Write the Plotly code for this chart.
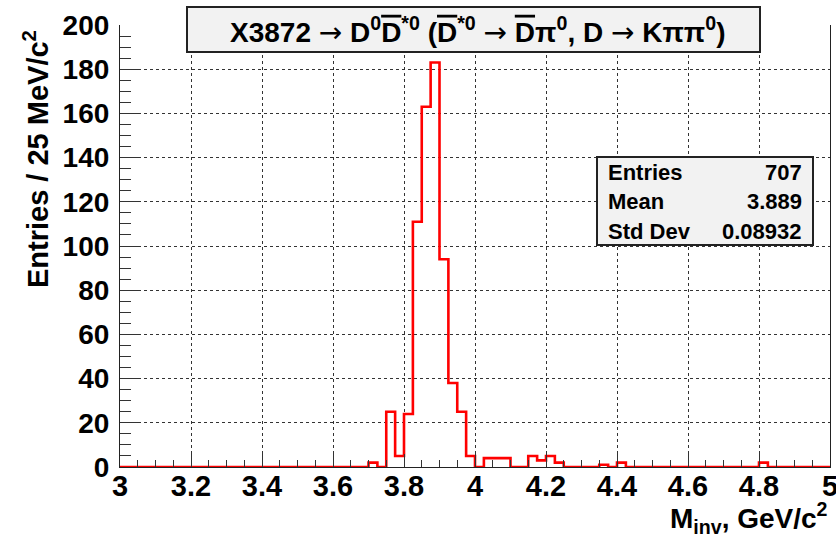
import numpy as np
import plotly.graph_objects as go

# Histogram binning in GeV/c^2
x_min, x_max, bin_width = 3.0, 5.0, 0.025

# Non-empty bins: lower bin edge and number of entries
bin_low = [3.700, 3.750, 3.775, 3.800, 3.825, 3.850, 3.875, 3.900, 3.925, 3.950, 3.975,
           4.025, 4.050, 4.075, 4.150, 4.175, 4.200, 4.225, 4.350, 4.400, 4.800]
bin_counts = [2, 25, 5, 24, 111, 163, 183, 94, 38, 25, 5,
              4, 4, 4, 5, 3, 5, 2, 1, 2, 2]

x_tick_vals = [3.0, 3.2, 3.4, 3.6, 3.8, 4.0, 4.2, 4.4, 4.6, 4.8, 5.0]
x_tick_text = ["3", "3.2", "3.4", "3.6", "3.8", "4", "4.2", "4.4", "4.6", "4.8", "5"]
y_tick_vals = [0, 20, 40, 60, 80, 100, 120, 140, 160, 180, 200]
y_tick_text = [str(v) for v in y_tick_vals]

stat_names = ["Entries", "Mean", "Std Dev"]
stat_values = ["707", "3.889", "0.08932"]

ARROW = "<span style='font-family:DejaVu Sans;font-weight:normal'>\u2192</span>"
OVER_D = "<span style='text-decoration:overline'>D</span>"
title_text = (f"X3872 {ARROW} D<sup>0</sup>{OVER_D}<sup>*0</sup> "
              f"({OVER_D}<sup>*0</sup> {ARROW} {OVER_D}\u03c0<sup>0</sup>, "
              f"D {ARROW} K\u03c0\u03c0<sup>0</sup>)")
y_title = "Entries / 25 MeV/c<sup>2</sup>"
x_title = "M<sub>inv</sub>, GeV/c<sup>2</sup>"

# Fill the full bin array and build the step outline
n_bins = int(round((x_max - x_min) / bin_width))
counts = np.zeros(n_bins)
for lo, c in zip(bin_low, bin_counts):
    counts[int(round((lo - x_min) / bin_width))] = c
edges = x_min + bin_width * np.arange(n_bins + 1)
step_y = np.append(counts, counts[-1])

# Frame geometry (pixels) and helpers to place decorations in paper coordinates
FIG_W, FIG_H = 836, 538
L, R, T, B = 120, 830, 25, 467
W, H = R - L, B - T


def px(x):
    return (x - L) / W


def py(y):
    return (B - y) / H


FONT = "Liberation Sans"
BOLD = dict(family=FONT, color="black", weight="bold")

fig = go.Figure()
fig.add_trace(go.Scatter(
    x=edges, y=step_y, mode="lines",
    line=dict(color="#ff0000", width=2.6, shape="hv"),
    cliponaxis=False, hoverinfo="skip", showlegend=False,
))

axis_common = dict(
    showline=True, linecolor="#222", linewidth=1.2,
    ticks="inside", tickcolor="#333", tickwidth=1.2,
    showgrid=True, gridcolor="#333", gridwidth=1, griddash="dot",
    zeroline=False, ticklabeloverflow="allow",
)

fig.update_xaxes(
    range=[x_min, x_max], tickmode="array", tickvals=x_tick_vals, ticktext=x_tick_text,
    ticklen=13, tickfont=dict(size=29, **BOLD), ticklabelstandoff=-7,
    minor=dict(dtick=0.05, tick0=x_min, ticks="inside", ticklen=7, tickcolor="#333",
               tickwidth=1.2, showgrid=False),
    **axis_common,
)
fig.update_yaxes(
    range=[0, 200], tickmode="array", tickvals=y_tick_vals, ticktext=y_tick_text,
    ticklen=21, tickfont=dict(size=28, **BOLD), mirror=True, ticklabelstandoff=4,
    minor=dict(dtick=5, tick0=0, ticks="inside", ticklen=11, tickcolor="#333",
               tickwidth=1.2, showgrid=False),
    **axis_common,
)

shapes = [
    # title box
    dict(type="rect", xref="paper", yref="paper", x0=px(187), x1=px(760), y0=py(52), y1=py(7),
         fillcolor="#f2f2f2", line=dict(color="#222", width=2), layer="above"),
    # statistics box
    dict(type="rect", xref="paper", yref="paper", x0=px(597), x1=px(813), y0=py(245), y1=py(157),
         fillcolor="#f2f2f2", line=dict(color="#222", width=2), layer="above"),
]

annotations = [
    dict(text=title_text, xref="paper", yref="paper", x=px(478), y=py(31),
         xanchor="center", yanchor="middle", showarrow=False, font=dict(size=28, **BOLD)),
    dict(text=y_title, xref="paper", yref="paper", x=px(36), y=py(28),
         xanchor="center", yanchor="top", textangle=-90, showarrow=False,
         font=dict(size=29, **BOLD)),
    dict(text=x_title, xref="paper", yref="paper", x=px(830), y=py(496),
         xanchor="right", yanchor="top", showarrow=False, font=dict(size=28, **BOLD)),
]
for i, (name, val) in enumerate(zip(stat_names, stat_values)):
    yy = py(172 + 29.5 * i)
    annotations.append(dict(text=name, xref="paper", yref="paper", x=px(606), y=yy,
                            xanchor="left", yanchor="middle", showarrow=False,
                            font=dict(size=22, **BOLD)))
    annotations.append(dict(text=val, xref="paper", yref="paper", x=px(804), y=yy,
                            xanchor="right", yanchor="middle", showarrow=False,
                            font=dict(size=22, **BOLD)))

fig.update_layout(
    width=FIG_W, height=FIG_H,
    margin=dict(l=L, r=FIG_W - R, t=T, b=FIG_H - B, autoexpand=False),
    paper_bgcolor="white", plot_bgcolor="white",
    font=dict(family=FONT, color="black"),
    shapes=shapes, annotations=annotations, showlegend=False,
)

fig.write_html("out.html")
